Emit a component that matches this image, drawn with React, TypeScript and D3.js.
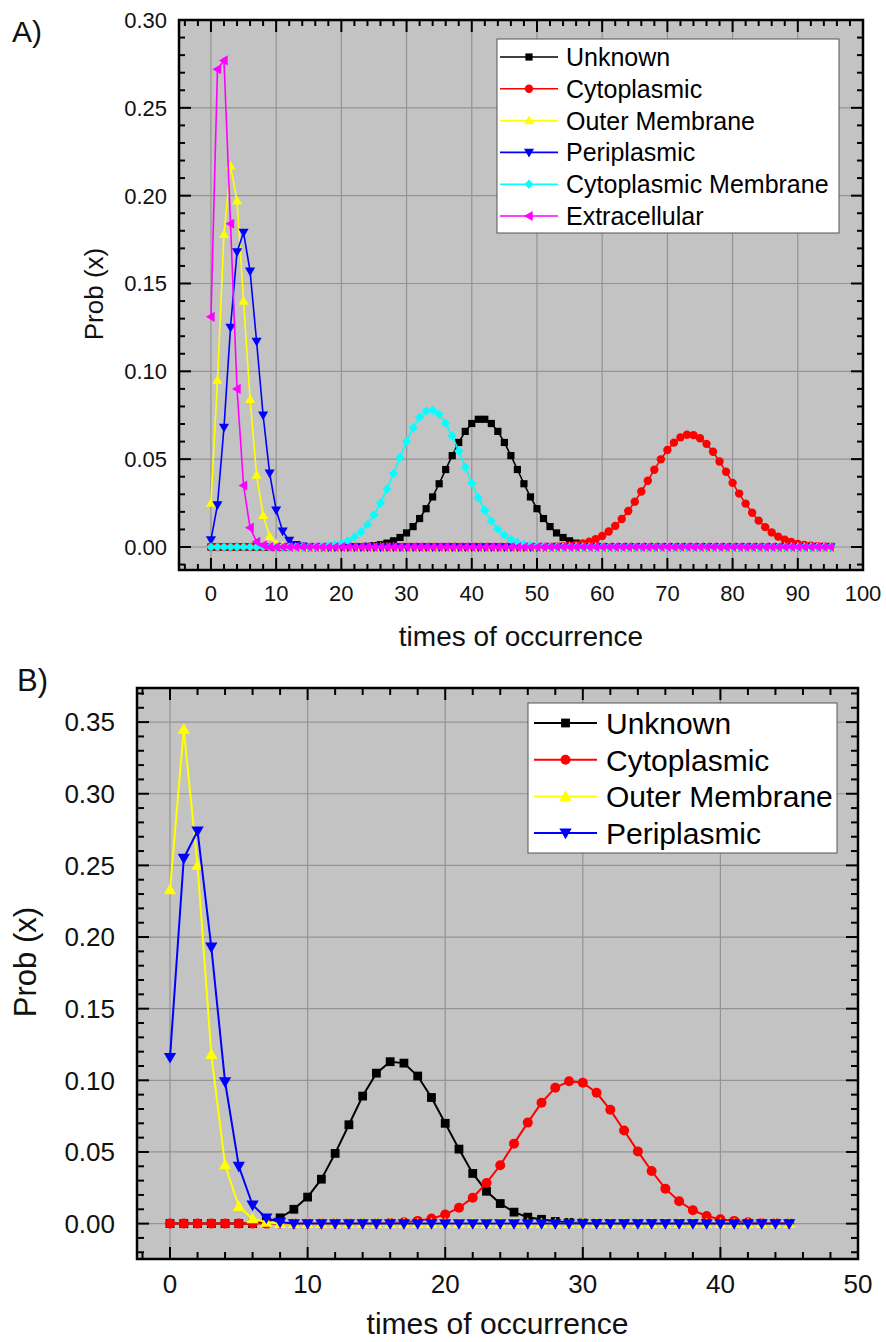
import React from 'react';
import * as d3 from 'd3';

const FONT = '"Liberation Sans", Arial, Helvetica, sans-serif';

// ---------- panel A data (x = 0..95) ----------
const namesA = ['Unknown', 'Cytoplasmic', 'Outer Membrane', 'Periplasmic', 'Cytoplasmic Membrane', 'Extracellular'];

const unknownA = [
  0, 0, 0, 0, 0, 0, 0, 0, 0, 0,
  0, 0, 0, 0, 0, 0, 0, 0, 0, 0,
  0, 0, 0.0001, 0.0002, 0.0004, 0.0008, 0.0013, 0.0022, 0.0035, 0.0054,
  0.0080, 0.0116, 0.0162, 0.0218, 0.0285, 0.0360, 0.0441, 0.0520, 0.0595, 0.0658,
  0.0703, 0.0727, 0.0727, 0.0703, 0.0658, 0.0595, 0.0520, 0.0441, 0.0360, 0.0285,
  0.0218, 0.0162, 0.0116, 0.0080, 0.0054, 0.0035, 0.0022, 0.0013, 0.0008, 0.0004,
  0.0002, 0.0001, 0, 0, 0, 0, 0, 0, 0, 0,
  0, 0, 0, 0, 0, 0, 0, 0, 0, 0,
  0, 0, 0, 0, 0, 0, 0, 0, 0, 0,
  0, 0, 0, 0, 0, 0,
];
const cytoplasmicA = [
  0, 0, 0, 0, 0, 0, 0, 0, 0, 0,
  0, 0, 0, 0, 0, 0, 0, 0, 0, 0,
  0, 0, 0, 0, 0, 0, 0, 0, 0, 0,
  0, 0, 0, 0, 0, 0, 0, 0, 0, 0,
  0, 0, 0, 0, 0, 0, 0, 0, 0, 0,
  0, 0.0001, 0.0002, 0.0003, 0.0005, 0.0008, 0.0013, 0.0020, 0.0030, 0.0044,
  0.0063, 0.0088, 0.0120, 0.0159, 0.0205, 0.0258, 0.0316, 0.0377, 0.0440, 0.0499,
  0.0552, 0.0594, 0.0624, 0.0639, 0.0637, 0.0619, 0.0587, 0.0542, 0.0487, 0.0428,
  0.0365, 0.0304, 0.0247, 0.0195, 0.0150, 0.0113, 0.0083, 0.0059, 0.0041, 0.0028,
  0.0018, 0.0012, 0.0008, 0.0005, 0.0003, 0.0002,
];
const outerA = [
  0.025, 0.095, 0.178, 0.217, 0.197, 0.140, 0.084, 0.041, 0.018, 0.006,
  0.002, 0.0006, 0.0002, 0, 0, 0, 0, 0, 0, 0,
  0, 0, 0, 0, 0, 0, 0, 0, 0, 0,
  0, 0, 0, 0, 0, 0, 0, 0, 0, 0,
  0, 0, 0, 0, 0, 0, 0, 0, 0, 0,
  0, 0, 0, 0, 0, 0, 0, 0, 0, 0,
  0, 0, 0, 0, 0, 0, 0, 0, 0, 0,
  0, 0, 0, 0, 0, 0, 0, 0, 0, 0,
  0, 0, 0, 0, 0, 0, 0, 0, 0, 0,
  0, 0, 0, 0, 0, 0,
];
const periA = [
  0.004, 0.024, 0.068, 0.125, 0.168, 0.179, 0.157, 0.117, 0.075, 0.042,
  0.021, 0.009, 0.0037, 0.0013, 0.0004, 0, 0, 0, 0, 0,
  0, 0, 0, 0, 0, 0, 0, 0, 0, 0,
  0, 0, 0, 0, 0, 0, 0, 0, 0, 0,
  0, 0, 0, 0, 0, 0, 0, 0, 0, 0,
  0, 0, 0, 0, 0, 0, 0, 0, 0, 0,
  0, 0, 0, 0, 0, 0, 0, 0, 0, 0,
  0, 0, 0, 0, 0, 0, 0, 0, 0, 0,
  0, 0, 0, 0, 0, 0, 0, 0, 0, 0,
  0, 0, 0, 0, 0, 0,
];
const cytoMemA = [
  0, 0, 0, 0, 0, 0, 0, 0, 0, 0,
  0, 0, 0, 0, 0, 0, 0.0002, 0.0004, 0.0007, 0.0012,
  0.0021, 0.0035, 0.0056, 0.0086, 0.0128, 0.0182, 0.0250, 0.0330, 0.0418, 0.0510,
  0.0600, 0.0678, 0.0738, 0.0773, 0.0779, 0.0755, 0.0705, 0.0632, 0.0547, 0.0455,
  0.0364, 0.0280, 0.0208, 0.0148, 0.0101, 0.0067, 0.0043, 0.0026, 0.0015, 0.0009,
  0.0005, 0.0003, 0.0001, 0, 0, 0, 0, 0, 0, 0,
  0, 0, 0, 0, 0, 0, 0, 0, 0, 0,
  0, 0, 0, 0, 0, 0, 0, 0, 0, 0,
  0, 0, 0, 0, 0, 0, 0, 0, 0, 0,
  0, 0, 0, 0, 0, 0,
];
const extraA = [
  0.131, 0.272, 0.277, 0.184, 0.090, 0.035, 0.011, 0.003, 0.001, 0,
  0, 0, 0, 0, 0, 0, 0, 0, 0, 0,
  0, 0, 0, 0, 0, 0, 0, 0, 0, 0,
  0, 0, 0, 0, 0, 0, 0, 0, 0, 0,
  0, 0, 0, 0, 0, 0, 0, 0, 0, 0,
  0, 0, 0, 0, 0, 0, 0, 0, 0, 0,
  0, 0, 0, 0, 0, 0, 0, 0, 0, 0,
  0, 0, 0, 0, 0, 0, 0, 0, 0, 0,
  0, 0, 0, 0, 0, 0, 0, 0, 0, 0,
  0, 0, 0, 0, 0, 0,
];
const xTicksA = [0, 10, 20, 30, 40, 50, 60, 70, 80, 90, 100];
const yTicksA = [0, 0.05, 0.1, 0.15, 0.2, 0.25, 0.3];

// ---------- panel B data (x = 0..45) ----------
const namesB = ['Unknown', 'Cytoplasmic', 'Outer Membrane', 'Periplasmic'];

const unknownB = [
  0, 0, 0, 0, 0, 0, 0, 0.0015, 0.004, 0.010,
  0.0185, 0.031, 0.049, 0.069, 0.089, 0.105, 0.113, 0.112, 0.103, 0.088,
  0.070, 0.052, 0.035, 0.0226, 0.014, 0.008, 0.0045, 0.003, 0.0015, 0.0008,
  0.0004, 0.0002, 0, 0, 0, 0, 0, 0, 0, 0,
  0, 0, 0, 0, 0, 0,
];
const cytoplasmicB = [
  0, 0, 0, 0, 0, 0, 0, 0, 0, 0,
  0, 0, 0, 0, 0, 0, 0.0005, 0.001, 0.0019, 0.0035,
  0.0063, 0.0111, 0.0181, 0.0284, 0.0407, 0.0558, 0.0705, 0.0844, 0.0948, 0.0994,
  0.0983, 0.0913, 0.0794, 0.0650, 0.0504, 0.0367, 0.0244, 0.0156, 0.0093, 0.0053,
  0.0030, 0.0019, 0.0010, 0.0005, 0.0002, 0.0001,
];
const outerB = [
  0.233, 0.345, 0.250, 0.118, 0.041, 0.012, 0.0034, 0.001, 0, 0,
  0, 0, 0, 0, 0, 0, 0, 0, 0, 0,
  0, 0, 0, 0, 0, 0, 0, 0, 0, 0,
  0, 0, 0, 0, 0, 0, 0, 0, 0, 0,
  0, 0, 0, 0, 0, 0,
];
const periB = [
  0.116, 0.255, 0.274, 0.193, 0.099, 0.040, 0.013, 0.004, 0.001, 0,
  0, 0, 0, 0, 0, 0, 0, 0, 0, 0,
  0, 0, 0, 0, 0, 0, 0, 0, 0, 0,
  0, 0, 0, 0, 0, 0, 0, 0, 0, 0,
  0, 0, 0, 0, 0, 0,
];
const xTicksB = [0, 10, 20, 30, 40, 50];
const yTicksB = [0, 0.05, 0.1, 0.15, 0.2, 0.25, 0.3, 0.35];

const colors = ['#000000', '#ff0000', '#ffff00', '#0000ff', '#00ffff', '#ff00ff'];
const shapes = ['square', 'circle', 'up', 'down', 'diamond', 'left'];

function markerPath(shape: string, r: number) {
  switch (shape) {
    case 'square':
      return `M${-r},${-r}h${2 * r}v${2 * r}h${-2 * r}Z`;
    case 'up':
      return `M0,${-r * 1.1}L${r * 1.1},${r * 0.8}L${-r * 1.1},${r * 0.8}Z`;
    case 'down':
      return `M0,${r * 1.1}L${r * 1.1},${-r * 0.8}L${-r * 1.1},${-r * 0.8}Z`;
    case 'diamond':
      return `M0,${-r}L${r},0L0,${r}L${-r},0Z`;
    case 'left':
      return `M${-r * 1.1},0L${r * 0.8},${-r * 1.1}L${r * 0.8},${r * 1.1}Z`;
    default:
      return '';
  }
}

function Marker({ shape, cx, cy, r, color }: any) {
  if (shape === 'circle') return <circle cx={cx} cy={cy} r={r} fill={color} />;
  return <path d={markerPath(shape, r)} transform={`translate(${cx},${cy})`} fill={color} />;
}

function Panel({ p }: any) {
  const x = d3.scaleLinear().domain(p.xDomain).range([p.left, p.right]);
  const y = d3.scaleLinear().domain(p.yDomain).range([p.bottom, p.top]);
  const line = d3.line<number>().x((d, i) => x(i)).y(d => y(d));

  const xMinor = d3.range(Math.ceil(p.xDomain[0] / p.xMinor), Math.floor(p.xDomain[1] / p.xMinor + 1e-6) + 1)
    .map(k => k * p.xMinor);
  const yMinor = d3.range(Math.ceil(p.yDomain[0] / p.yMinor - 1e-6), Math.floor(p.yDomain[1] / p.yMinor + 1e-6) + 1)
    .map(k => +(k * p.yMinor).toFixed(4));
  const isMajorX = (v: number) => Math.abs(v / p.xMajor - Math.round(v / p.xMajor)) < 1e-6;
  const isMajorY = (v: number) => Math.abs(v / p.yMajor - Math.round(v / p.yMajor)) < 1e-6;
  const fmt = d3.format('.2f');

  return (
    <g>
      <rect x={p.left} y={p.top} width={p.right - p.left} height={p.bottom - p.top} fill="#c3c3c3" />
      {/* grid */}
      {p.xTicks.map((t: number) => (
        <line key={'gx' + t} x1={x(t)} x2={x(t)} y1={p.top} y2={p.bottom} stroke="#939393" strokeWidth={1.2} />
      ))}
      {p.yTicks.map((t: number) => (
        <line key={'gy' + t} x1={p.left} x2={p.right} y1={y(t)} y2={y(t)} stroke="#939393" strokeWidth={1.2} />
      ))}
      {/* series */}
      {p.series.map((s: number[], i: number) => (
        <g key={'s' + i}>
          <path d={line(s) || ''} fill="none" stroke={colors[i]} strokeWidth={p.lineW} />
          {s.map((v, j) => (
            <Marker key={j} shape={shapes[i]} cx={x(j)} cy={y(v)} r={p.markR[i]} color={colors[i]} />
          ))}
        </g>
      ))}
      {/* legend */}
      <rect x={p.leg.x0} y={p.leg.y0} width={p.leg.x1 - p.leg.x0} height={p.leg.y1 - p.leg.y0}
        fill="#ffffff" stroke="#555" strokeWidth={1} />
      {p.names.map((n: string, i: number) => {
        const cy = p.leg.row0 + i * p.leg.step;
        const mx = (p.leg.lx0 + p.leg.lx1) / 2;
        return (
          <g key={'l' + i}>
            <line x1={p.leg.lx0} x2={p.leg.lx1} y1={cy} y2={cy} stroke={colors[i]} strokeWidth={p.lineW} />
            <Marker shape={shapes[i]} cx={mx} cy={cy} r={p.markR[i]} color={colors[i]} />
            <text x={p.leg.tx} y={cy + p.leg.fs * 0.36} fontSize={p.leg.fs} fontFamily={FONT} fill="#000">{n}</text>
          </g>
        );
      })}
      {/* ticks */}
      {xMinor.map(v => {
        const L = isMajorX(v) ? p.tickMaj : p.tickMin;
        return (
          <g key={'tx' + v}>
            <line x1={x(v)} x2={x(v)} y1={p.bottom} y2={p.bottom - L} stroke="#000" strokeWidth={2} />
            <line x1={x(v)} x2={x(v)} y1={p.top} y2={p.top + L} stroke="#000" strokeWidth={2} />
          </g>
        );
      })}
      {yMinor.map(v => {
        const L = isMajorY(v) ? p.tickMaj : p.tickMin;
        return (
          <g key={'ty' + v}>
            <line x1={p.left} x2={p.left + L} y1={y(v)} y2={y(v)} stroke="#000" strokeWidth={2} />
            <line x1={p.right} x2={p.right - L} y1={y(v)} y2={y(v)} stroke="#000" strokeWidth={2} />
          </g>
        );
      })}
      <rect x={p.left} y={p.top} width={p.right - p.left} height={p.bottom - p.top} fill="none" stroke="#000" strokeWidth={2.5} />
      {/* tick labels */}
      {p.xTicks.map((t: number) => (
        <text key={'lx' + t} x={x(t)} y={p.xLabY} textAnchor="middle" fontSize={p.tickFs} fontFamily={FONT} fill="#111">{t}</text>
      ))}
      {p.yTicks.map((t: number) => (
        <text key={'ly' + t} x={p.yLabX} y={y(t) + p.tickFs * 0.36} textAnchor="end" fontSize={p.tickFs} fontFamily={FONT} fill="#111">{fmt(t)}</text>
      ))}
      {/* titles */}
      <text x={(p.left + p.right) / 2} y={p.xTitleY} textAnchor="middle" fontSize={p.xTitleFs} fontFamily={FONT} fill="#111">times of occurrence</text>
      <text transform={`translate(${p.yTitleX},${p.yTitleCy}) rotate(-90)`} textAnchor="middle" fontSize={p.yTitleFs} fontFamily={FONT} fill="#111">Prob (x)</text>
      <text x={p.tagX} y={p.tagY} fontSize={p.tagFs} fontFamily={FONT} fill="#111">{p.tag}</text>
    </g>
  );
}

const panelA = {
  tag: 'A)', tagX: 12, tagY: 42, tagFs: 30,
  left: 179, top: 20, right: 863, bottom: 570,
  xDomain: [-4.9, 100], yDomain: [-0.0131, 0.3],
  xMajor: 10, xMinor: 2, yMajor: 0.05, yMinor: 0.01,
  xTicks: xTicksA, yTicks: yTicksA,
  tickMaj: 12, tickMin: 6,
  tickFs: 22, xLabY: 601, yLabX: 167,
  xTitleY: 646, xTitleFs: 28, yTitleX: 103, yTitleCy: 294, yTitleFs: 26,
  series: [unknownA, cytoplasmicA, outerA, periA, cytoMemA, extraA],
  names: namesA,
  lineW: 1.6, markR: [3.6, 4.2, 4.6, 4.6, 4.6, 4.6],
  leg: { x0: 497, y0: 39, x1: 839, y1: 233, row0: 57, step: 31.8, lx0: 500, lx1: 558, tx: 566, fs: 25 },
};

const panelB = {
  tag: 'B)', tagX: 17, tagY: 691, tagFs: 31,
  left: 137, top: 688, right: 858, bottom: 1259,
  xDomain: [-2.4, 50], yDomain: [-0.0247, 0.3738],
  xMajor: 10, xMinor: 2, yMajor: 0.05, yMinor: 0.01,
  xTicks: xTicksB, yTicks: yTicksB,
  tickMaj: 12, tickMin: 7,
  tickFs: 26, xLabY: 1293, yLabX: 115,
  xTitleY: 1334, xTitleFs: 30, yTitleX: 36, yTitleCy: 962, yTitleFs: 31,
  series: [unknownB, cytoplasmicB, outerB, periB],
  names: namesB,
  lineW: 2, markR: [4.4, 5, 5.6, 5.6],
  leg: { x0: 528, y0: 703, x1: 837, y1: 853, row0: 723, step: 36.7, lx0: 534, lx1: 597, tx: 606, fs: 30 },
};

export default function App() {
  return (
    <svg width={886} height={1342} style={{ position: 'absolute', left: 0, top: 0, background: '#fff' }}>
      <rect width={886} height={1342} fill="#fff" />
      <Panel p={panelA} />
      <Panel p={panelB} />
    </svg>
  );
}
